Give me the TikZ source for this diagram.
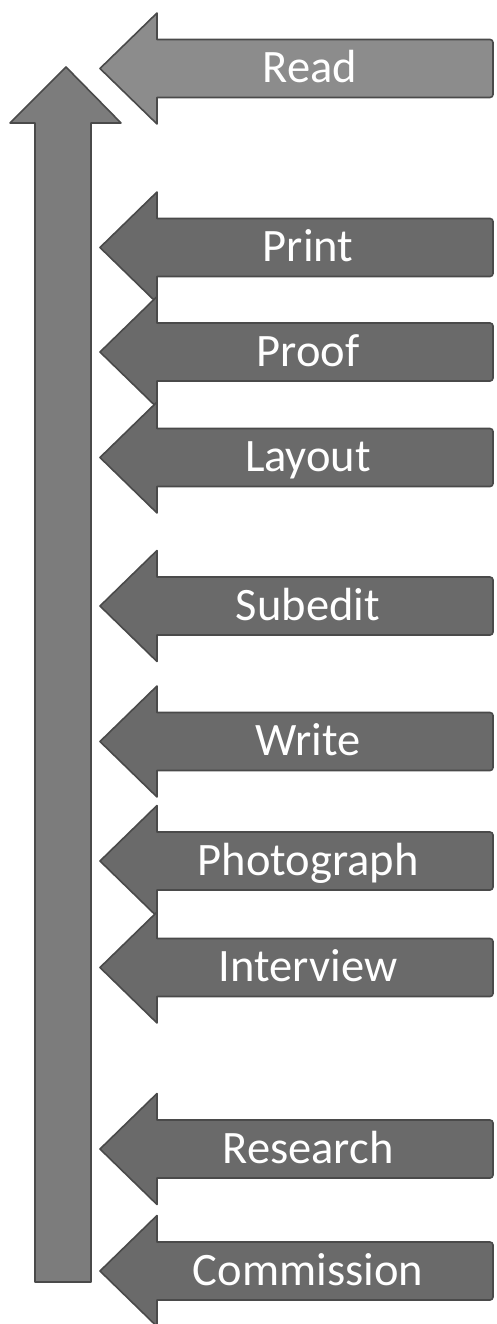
\documentclass[tikz,border=0pt]{standalone}
\usepackage{fontspec}
\setmainfont{Carlito}
\definecolor{arrowdark}{HTML}{6A6A6A}
\definecolor{arrowlight}{HTML}{8C8C8C}
\definecolor{arrowmid}{HTML}{7C7C7C}
\definecolor{arrowline}{HTML}{4A4A4A}
\tikzset{
  larrow/.style={fill=arrowdark, draw=arrowline, line width=1.6pt, line join=round},
  uparrow/.style={fill=arrowmid, draw=arrowline, line width=1.6pt, line join=round},
  lbl/.style={text=white, font=\fontsize{46.5}{46.5}\selectfont, anchor=base, inner sep=0pt}
}
\begin{document}
\begin{tikzpicture}[x=1pt,y=-1pt]
\useasboundingbox (0,0) rectangle (496,1324);
\fill[white] (0,0) rectangle (496,1324);
% vertical arrow
\draw[uparrow] (35,1282) -- (35,123) -- (10,123) -- (66,67) -- (121,123) -- (91,123) -- (91,1282) -- cycle;
% Read arrow (lighter)
\draw[larrow, fill=arrowlight] (157,39.5) -- (157,13) -- (100,68.5) -- (157,124) -- (157,97.5) -- (490,97.5) to[out=0,in=-90] (493,94.5) -- (493,42.5) to[out=90,in=0] (490,39.5) -- cycle;
\node[lbl] (read) at (310,82.5) {Read};
% the other arrows
\foreach \c/\t/\n in {247.5/Print/print, 352/Proof/proof, 457.5/Layout/layout, 606/Subedit/subedit, 741.5/Write/write, 861/Photograph/photograph, 967.5/Interview/interview, 1149/Research/research, 1271/Commission/commission}{
  \draw[larrow] (157,{\c-29}) -- (157,{\c-55.5}) -- (100,\c) -- (157,{\c+55.5}) -- (157,{\c+29}) -- (490,{\c+29}) to[out=0,in=-90] (493,{\c+26}) -- (493,{\c-26}) to[out=90,in=0] (490,{\c-29}) -- cycle;
  \node[lbl] (\n) at (308,{\c+14}) {\t};
}
\end{tikzpicture}
\end{document}
